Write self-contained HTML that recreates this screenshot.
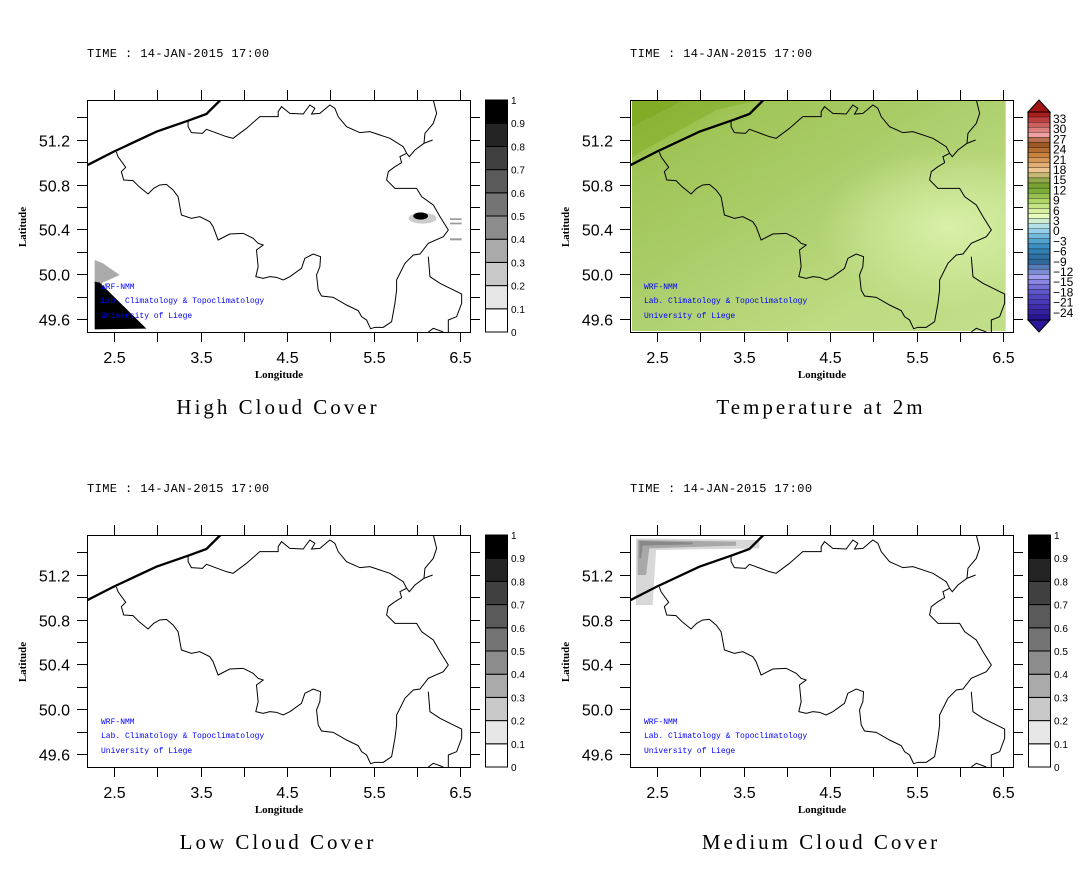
<!DOCTYPE html>
<html><head><meta charset="utf-8"><style>
html,body{margin:0;padding:0;background:#fff;}
svg{display:block;}
text{font-family:"Liberation Sans",sans-serif;}
</style></head><body>
<svg id="s" width="1087" height="869" xmlns="http://www.w3.org/2000/svg">
<defs>
<linearGradient id="tg" x1="0" y1="0" x2="1" y2="1">
<stop offset="0" stop-color="#86b02c"/>
<stop offset="0.15" stop-color="#9fc455"/>
<stop offset="0.45" stop-color="#acce6c"/>
<stop offset="0.75" stop-color="#bedc82"/>
<stop offset="1" stop-color="#c2de8a"/>
</linearGradient>
<radialGradient id="tl" cx="0.85" cy="0.55" r="0.35">
<stop offset="0" stop-color="#d8f0a8"/>
<stop offset="1" stop-color="#d8f0a8" stop-opacity="0"/>
</radialGradient>
</defs>
<g id="root"></g>
</svg>
<script>
var out='';
var border="M350,186 L355,200 378,232 365,245 372,270 400,272 418,290 445,312 462,295 480,285 500,283 520,300 535,320 545,375 575,385 600,380 630,395 640,410 655,450 690,432 730,430 760,445 775,460 790,465 770,480 775,530 768,560 790,565 810,560 830,562 850,570 870,560 905,535 915,505 940,492 962,500 960,530 950,555 955,600 965,618 1000,622 1040,645 1075,662 1085,680 1100,690 1112,716 1125,712 1150,712 1175,695 1185,640 1190,600 1190,570 1215,520 1240,495 1260,492 1285,460 1330,440 1345,420 1320,380 1300,345 1265,320 1250,295 1185,295 1160,270 1165,245 1185,230 1205,218 1200,200 1220,190 1210,170 1170,145 1110,125 1080,128 1040,110 1015,80 1005,55 990,45 960,70 935,72 945,55 930,45 910,72 870,70 845,50 835,65 835,80 780,80 740,115 700,145 680,140 620,118 608,130 575,128 565,110 565,92"+
" M1300,30 L1310,70 1300,100 1275,130 1272,160 1298,150 M1272,160 1245,180 1228,200 1220,190"+
" M1285,500 L1290,560 1320,580 1385,612 1385,640 1370,680 1345,690 1345,726"+
" M1285,726 L1300,715 1330,726";
var coast="M262,226 L340,186 470,125 565,92 620,72 662,30";
var mono="font-family:'Liberation Mono',monospace";
function panel(px,py,kind,title){
  var W=383,H=232;
  out+='<text x="'+px+'" y="'+(py-43)+'" font-size="12" style="'+mono+';letter-spacing:0.4px">TIME : 14-JAN-2015 17:00</text>';
  out+='<svg x="'+px+'" y="'+py+'" width="'+W+'" height="'+H+'" viewBox="262 30 1148 696" preserveAspectRatio="none">';
  if(kind=='temp'){
    out+='<rect x="268" y="33" width="1120" height="690" fill="url(#tg)"/>';
    out+='<rect x="268" y="33" width="1120" height="690" fill="url(#tl)"/>';
    out+='<path d="M268,33 L640,33 520,60 268,200 Z" fill="#8ab434" opacity="0.8"/>';
    out+='<path d="M268,33 L420,33 268,110 Z" fill="#80aa24" opacity="0.8"/>';
  }
  if(kind=='high'){
    out+='<polygon points="285,510 310,520 360,555 300,582 285,582" fill="#aaa"/>';
    out+='<polygon points="285,575 300,578 440,716 285,718" fill="#000"/>';
    out+='<ellipse cx="1268" cy="385" rx="42" ry="16" fill="#ccc"/>';
    out+='<ellipse cx="1262" cy="378" rx="22" ry="11" fill="#000"/>';
    out+='<rect x="1350" y="385" width="35" height="5" fill="#999"/><rect x="1350" y="398" width="35" height="5" fill="#999"/><rect x="1350" y="445" width="35" height="6" fill="#999"/>';
  }
  if(kind=='med'){
    out+='<polygon points="280,40 650,45 650,70 340,75 330,240 280,240" fill="#d8d8d8"/>';
    out+='<polygon points="285,45 580,50 580,62 320,70 310,150 285,150" fill="#a8a8a8"/>';
    out+='<polygon points="290,48 450,52 450,58 300,62 295,100 290,100" fill="#888"/>';
  }
  out+='<path d="'+border+'" fill="none" stroke="#000" stroke-width="3"/>';
  out+='<path d="'+coast+'" fill="none" stroke="#000" stroke-width="7"/>';
  out+='</svg>';
  out+='<rect x="'+px+'.5" y="'+py+'.5" width="'+W+'" height="'+H+'" fill="none" stroke="#000"/>';
  for(var i=0;i<9;i++){
    var x=px+27+i*43.25; x=Math.round(x)+0.5;
    out+='<line x1="'+x+'" y1="'+(py-10)+'" x2="'+x+'" y2="'+py+'" stroke="#000"/>';
    out+='<line x1="'+x+'" y1="'+(py+H)+'" x2="'+x+'" y2="'+(py+H+10)+'" stroke="#000"/>';
    if(i%2==0) out+='<text x="'+(x)+'" y="'+(py+H+31)+'" font-size="16" text-anchor="middle">'+(2.5+i/2).toFixed(1)+'</text>';
  }
  for(var j=0;j<10;j++){
    var y=py+17.3+j*22.4; y=Math.round(y)+0.5;
    out+='<line x1="'+(px-10)+'" y1="'+y+'" x2="'+px+'" y2="'+y+'" stroke="#000"/>';
    out+='<line x1="'+(px+W)+'" y1="'+y+'" x2="'+(px+W+10)+'" y2="'+y+'" stroke="#000"/>';
    if(j%2==1) out+='<text x="'+(px-17)+'" y="'+(y+6)+'" font-size="16" text-anchor="end">'+(51.4-j*0.2).toFixed(1)+'</text>';
  }
  out+='<text x="'+(px+192)+'" y="'+(py+H+46)+'" font-size="11" font-weight="bold" text-anchor="middle" style="font-family:\'Liberation Serif\',serif">Longitude</text>';
  out+='<text transform="translate('+(px-61)+','+(py+127)+') rotate(-90)" font-size="11" font-weight="bold" text-anchor="middle" style="font-family:\'Liberation Serif\',serif">Latitude</text>';
  out+='<text x="'+(px+14)+'" y="'+(py+189)+'" font-size="8" fill="#0000ff" style="'+mono+'">WRF-NMM</text>';
  out+='<text x="'+(px+14)+'" y="'+(py+203)+'" font-size="8" fill="#0000ff" style="'+mono+'">Lab. Climatology &amp; Topoclimatology</text>';
  out+='<text x="'+(px+14)+'" y="'+(py+218)+'" font-size="8" fill="#0000ff" style="'+mono+'">University of Liege</text>';
  out+='<text x="'+(px+191)+'" y="'+(py+314)+'" font-size="21" text-anchor="middle" style="font-family:\'Liberation Serif\',serif;letter-spacing:3px">'+title+'</text>';
  var cx=px+398;
  if(kind!='temp'){
    var g=['#ffffff','#e6e6e6','#c8c8c8','#aaaaaa','#8c8c8c','#747474','#5a5a5a','#404040','#242424','#000000'];
    for(var k=0;k<10;k++){
      var y0=py+H-(k+1)*23.2;
      out+='<rect x="'+cx+'.5" y="'+y0.toFixed(1)+'" width="22" height="23.2" fill="'+g[k]+'" stroke="#000" stroke-width="1"/>';
    }
    for(var k=0;k<=10;k++){
      var y=py+H-k*23.2;
      out+='<text x="'+(cx+26)+'" y="'+(y+4)+'" font-size="10">'+(k==0?'0':k==10?'1':'0.'+k)+'</text>';
    }
  } else {
    var stops=[[0,[40,20,150]],[0.12,[90,80,200]],[0.2,[160,160,240]],[0.28,[40,100,150]],[0.36,[60,150,200]],[0.44,[170,220,240]],[0.5,[230,250,190]],[0.56,[190,225,120]],[0.64,[110,160,40]],[0.68,[150,170,80]],[0.72,[240,200,150]],[0.8,[200,130,60]],[0.86,[150,80,30]],[0.9,[240,160,160]],[1,[170,30,30]]];
    function col(t){for(var a=0;a<stops.length-1;a++){if(t<=stops[a+1][0]){var f=(t-stops[a][0])/(stops[a+1][0]-stops[a][0]);var c=stops[a][1].map(function(v,q){return Math.round(v+(stops[a+1][1][q]-v)*f)});return 'rgb('+c+')';}}return 'rgb(170,30,30)';}
    var top=py+12,bot=py+220,n=41,h=(bot-top)/n;
    out+='<polygon points="'+cx+','+top+' '+(cx+22)+','+top+' '+(cx+11)+','+py+'" fill="#a01414" stroke="#000"/>';
    out+='<polygon points="'+cx+','+bot+' '+(cx+22)+','+bot+' '+(cx+11)+','+(py+H)+'" fill="#2a1898" stroke="#000"/>';
    for(var k=0;k<n;k++){
      out+='<rect x="'+cx+'" y="'+(top+k*h).toFixed(2)+'" width="22" height="'+h.toFixed(2)+'" fill="'+col(1-k/(n-1))+'" stroke="#000" stroke-width="0.3"/>';
    }
    out+='<rect x="'+cx+'" y="'+top+'" width="22" height="'+(bot-top)+'" fill="none" stroke="#000"/>';
    for(var v=33,k=0;v>=-24;v-=3,k++){
      var y=py+19+k*10.2;
      out+='<text x="'+(cx+25)+'" y="'+(y+4)+'" font-size="12">'+(v<0?'\u2212'+(-v):v)+'</text>';
    }
  }
}
panel(87,100,'high','High Cloud Cover');
panel(630,100,'temp','Temperature at 2m');
panel(87,535,'low','Low Cloud Cover');
panel(630,535,'med','Medium Cloud Cover');
document.getElementById('root').innerHTML=out;
</script>
</body></html>
